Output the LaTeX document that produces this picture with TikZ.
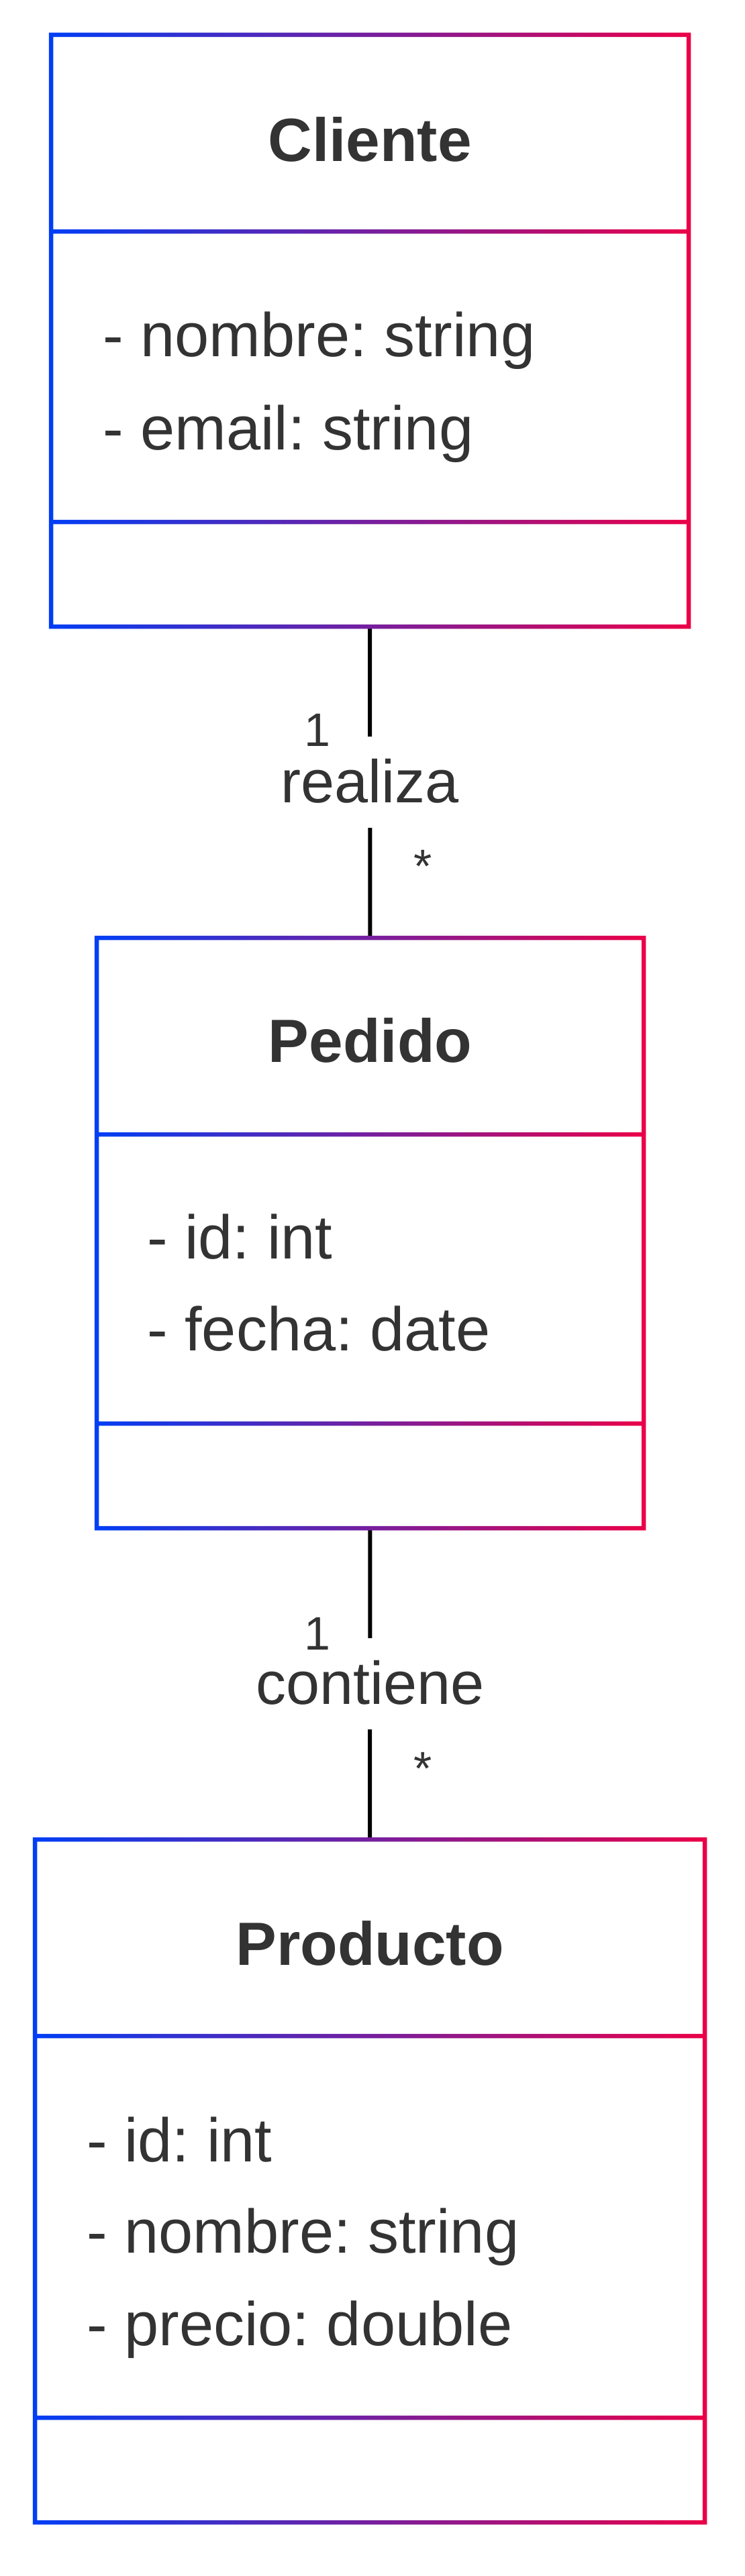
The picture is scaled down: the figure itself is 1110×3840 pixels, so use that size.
\documentclass[tikz,border=0pt]{standalone}
\usepackage{fontspec}
\setmainfont{Liberation Sans}
\usepackage{xcolor}
\usepackage{tikz}
\frenchspacing
\definecolor{umlblue}{RGB}{0,62,245}
\definecolor{umlred}{RGB}{235,0,72}
\definecolor{umltext}{RGB}{51,51,51}
% gradient frame with two dividers for a class node
\newcommand{\classframe}[1]{%
  \shade[left color=umlblue, right color=umlred]
    ([xshift=-3.25pt,yshift=3.25pt]#1.north west) rectangle ([xshift=3.25pt,yshift=-3.25pt]#1.north east)
    ([xshift=-3.25pt,yshift=3.25pt]#1.south west) rectangle ([xshift=3.25pt,yshift=-3.25pt]#1.south east)
    ([xshift=-3.25pt,yshift=3.25pt]#1.north west) rectangle ([xshift=3.25pt,yshift=-3.25pt]#1.south west)
    ([xshift=-3.25pt,yshift=3.25pt]#1.north east) rectangle ([xshift=3.25pt,yshift=-3.25pt]#1.south east)
    ([yshift=-289.75pt]#1.north west) rectangle ([yshift=-296.25pt]#1.north east)
    ([yshift=159.25pt]#1.south west) rectangle ([yshift=152.75pt]#1.south east);
}

\begin{document}
\begin{tikzpicture}[x=1pt,y=-1pt,
    classbox/.style={rectangle, inner sep=0pt, outer sep=0pt, anchor=north west},
    classname/.style={font=\fontsize{91}{108}\selectfont\bfseries, text=umltext, inner sep=0pt, anchor=base},
    attr/.style={font=\fontsize{92}{108}\selectfont, text=umltext, inner sep=0pt, anchor=base west},
    assoc/.style={black, line width=6pt},
    assoclabel/.style={font=\fontsize{90}{108}\selectfont, text=umltext, fill=white,
      inner xsep=10pt, inner ysep=18pt, text height=80pt, text depth=20pt},
    mult/.style={font=\fontsize{70}{84}\selectfont, text=umltext, inner sep=0pt, anchor=base}]
    \useasboundingbox (0,0) rectangle (1110,3840);
    % Classes
    \node[classbox, minimum width=950pt, minimum height=882pt] (cliente) at (76,52) {};
    \node[classbox, minimum width=815pt, minimum height=880pt] (pedido) at (144,1398) {};
    \node[classbox, minimum width=998pt, minimum height=1018pt] (producto) at (52,2742) {};
    % Associations
    \draw[assoc] (cliente) -- node[assoclabel] (realiza) {realiza} (pedido);
    \draw[assoc] (pedido) -- node[assoclabel] (contiene) {contiene} (producto);
    % Multiplicities
    \node[mult] (realizaUno) at (473,1112) {1};
    \node[mult] (realizaMuchos) at (630,1315) {*};
    \node[mult] (contieneUno) at (473,2459) {1};
    \node[mult] (contieneMuchos) at (630,2660) {*};
    % Frames
    \classframe{cliente}
    \classframe{pedido}
    \classframe{producto}
    % Cliente
    \node[classname] (clienteName) at (551,241) {Cliente};
    \node[attr] (clienteNombre) at (153,531) {- nombre: string};
    \node[attr] (clienteEmail) at (153,670) {- email: string};
    % Pedido
    \node[classname] (pedidoName) at (551.5,1583) {Pedido};
    \node[attr] (pedidoId) at (219,1876) {- id: int};
    \node[attr] (pedidoFecha) at (219,2013) {- fecha: date};
    % Producto
    \node[classname] (productoName) at (551,2929) {Producto};
    \node[attr] (productoId) at (129,3222) {- id: int};
    \node[attr] (productoNombre) at (129,3358) {- nombre: string};
    \node[attr] (productoPrecio) at (129,3496) {- precio: double};
\end{tikzpicture}
\end{document}
